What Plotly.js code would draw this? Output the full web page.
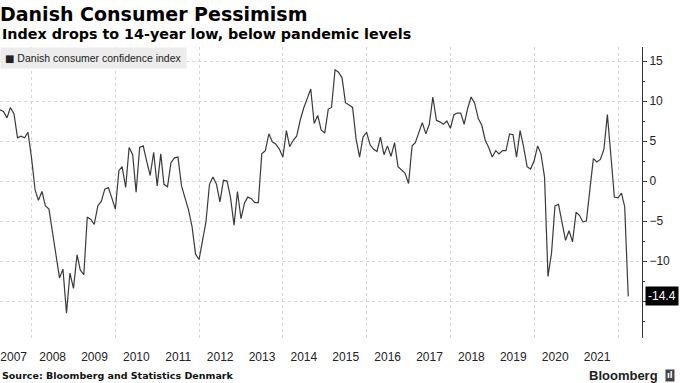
<!DOCTYPE html>
<html>
<head>
<meta charset="utf-8">
<script src="https://cdn.plot.ly/plotly-3.0.1.min.js"></script>
<style>
  html, body { margin: 0; padding: 0; background: #fff; }
  #chart { width: 680px; height: 383px; }
</style>
</head>
<body>
<div id="chart"></div>
<script>
// ---- data (monthly, March 2007 .. March 2022, plotted at month end) ----
const startYear = 2007;
const startMonth = 3; // March
const seriesName = 'Danish consumer confidence index';
const confidence = [
  8.9, 8.7, 7.9, 9.2, 8.4, 5.4, 5.6, 5.4, 6.1, 2.9,
  -1.1, -2.4, -1.3, -3.1, -3.5, -6.3, -9.7, -12.1, -11.0, -16.5,
  -11.5, -13.4, -9.2, -11.1, -11.7, -4.5, -4.8, -5.4, -3.1, -2.5,
  -1.0, -0.8, -2.1, -3.5, 1.3, 1.8, -0.8, 4.2, 3.3, -1.4,
  4.2, 4.4, 2.5, 0.7, 3.6, -0.6, 3.4, -0.4, -0.7, 2.3,
  2.9, 3.0, -0.6, -2.2, -3.6, -5.7, -9.1, -9.8, -7.4, -5.1,
  -0.4, 0.5, -0.4, -2.6, 0.1, 0.0, -2.0, -5.5, -1.3, -4.7,
  -2.7, -2.0, -2.2, -2.7, -2.7, 3.4, 3.8, 5.9, 4.9, 4.6,
  4.0, 3.0, 6.3, 4.3, 5.1, 5.6, 7.6, 9.1, 10.3, 11.5,
  7.2, 8.2, 6.4, 6.0, 9.0, 9.2, 13.9, 13.6, 12.9, 9.8,
  9.5, 9.2, 5.3, 3.0, 5.5, 6.1, 4.5, 4.0, 3.7, 5.5,
  3.3, 4.4, 3.1, 4.8, 1.8, 1.4, 1.0, -0.3, 4.4, 4.8,
  6.0, 7.3, 5.9, 7.1, 10.5, 7.6, 7.4, 7.1, 7.5, 6.6,
  8.3, 8.5, 8.5, 7.1, 9.1, 10.5, 9.7, 7.8, 7.0, 5.1,
  4.2, 3.0, 3.8, 3.4, 3.8, 3.8, 5.9, 5.8, 3.0, 6.3,
  4.3, 1.8, 1.5, 2.5, 4.4, 3.4, 0.5, -11.9, -9.0, -3.1,
  -2.9, -5.3, -7.4, -6.2, -7.6, -3.9, -4.3, -5.1, -5.0, -1.1,
  2.8, 2.4, 2.7, 4.0, 8.3, 3.1, -2.0, -2.1, -1.5, -3.2,
  -14.4
];
const yearLabels = ['2007','2008','2009','2010','2011','2012','2013','2014',
                    '2015','2016','2017','2018','2019','2020','2021'];
const yTicks = [-15, -10, -5, 0, 5, 10, 15];
const gridYears = ['2008','2010','2012','2014','2016','2018','2020','2022'];

// month-end dates for each observation
function monthEnd(i) {
  const d = new Date(Date.UTC(startYear, startMonth - 1 + i + 1, 0));
  return d.toISOString().slice(0, 10);
}
const dates = confidence.map((_, i) => monthEnd(i));

// tick labels sit mid-year (first one nudged so it stays inside the page)
const tickVals = yearLabels.map((y, i) => i === 0 ? y + '-07-28' : y + '-07-02');
const gridVals = gridYears.map(y => y + '-01-01');
const lastValue = confidence[confidence.length - 1];

const trace = {
  x: dates,
  y: confidence,
  type: 'scatter',
  mode: 'lines',
  name: seriesName,
  line: { color: '#3a3a3a', width: 1.2 },
  showlegend: false,
  hoverinfo: 'x+y'
};

const layout = {
  width: 680,
  height: 383,
  margin: { l: 0, r: 38, t: 47, b: 45 },
  paper_bgcolor: '#ffffff',
  plot_bgcolor: '#ffffff',
  font: { family: 'Liberation Sans, Arial, sans-serif', color: '#222' },
  title: {
    text: '<b>Danish Consumer Pessimism</b>',
    font: { family: 'DejaVu Sans, sans-serif', size: 19, color: '#000' },
    x: 0, xref: 'container', xanchor: 'left',
    y: 0.981, yref: 'container', yanchor: 'top',
    pad: { l: 0, t: 0 }
  },
  xaxis: {
    type: 'date',
    range: ['2007-03-31', '2022-07-29'],
    tickmode: 'array',
    tickvals: tickVals,
    ticktext: yearLabels,
    ticks: '',
    showgrid: false,
    showline: false,
    zeroline: false,
    ticklabelstandoff: 10,
    ticklabeloverflow: 'allow',
    tickfont: { family: 'Liberation Sans, Arial, sans-serif', size: 12, color: '#222' },
    minor: {
      tickmode: 'array',
      tickvals: gridVals,
      showgrid: true,
      gridcolor: '#d6d6d6',
      griddash: 'dot',
      gridwidth: 1,
      ticks: ''
    },
    fixedrange: true
  },
  yaxis: {
    side: 'right',
    range: [-19.6, 16.75],
    tickmode: 'array',
    tickvals: yTicks,
    ticks: 'outside',
    ticklen: 4,
    tickcolor: '#333',
    showline: true,
    linecolor: '#333',
    linewidth: 1,
    showgrid: true,
    gridcolor: '#d6d6d6',
    griddash: 'dot',
    gridwidth: 1,
    zeroline: false,
    tickfont: { family: 'Liberation Sans, Arial, sans-serif', size: 12, color: '#222' },
    minor: {
      dtick: 2.5,
      tick0: 0,
      ticks: 'outside',
      ticklen: 2,
      tickcolor: '#333',
      showgrid: false
    },
    fixedrange: true
  },
  annotations: [
    {
      text: '<b>Index drops to 14-year low, below pandemic levels</b>',
      xref: 'paper', yref: 'paper', x: 0, y: 1.043,
      xanchor: 'left', yanchor: 'middle', showarrow: false,
      font: { family: 'DejaVu Sans, sans-serif', size: 14.3, color: '#000' }
    },
    {
      text: '<span style="font-family:DejaVu Sans;font-size:10px">■</span> ' + seriesName,
      xref: 'paper', yref: 'paper', x: 0, y: 1,
      xanchor: 'left', yanchor: 'top', showarrow: false,
      bgcolor: '#ececec', borderpad: 4,
      font: { family: 'Liberation Sans, Arial, sans-serif', size: 10.5, color: '#222' }
    },
    {
      text: String(lastValue),
      xref: 'paper', yref: 'y', x: 1, y: lastValue,
      xanchor: 'left', yanchor: 'middle', xshift: 3, showarrow: false,
      bgcolor: '#000', borderpad: 2,
      font: { family: 'Liberation Sans, Arial, sans-serif', size: 12, color: '#fff' }
    },
    {
      text: '<b>Source: Bloomberg and Statistics Denmark</b>',
      xref: 'paper', yref: 'paper', x: 0, y: -0.13,
      xanchor: 'left', yanchor: 'middle', showarrow: false,
      font: { family: 'DejaVu Sans, sans-serif', size: 9.5, color: '#111' }
    },
    {
      text: '<b>Bloomberg</b>',
      xref: 'paper', yref: 'paper', x: 1.028, y: -0.13,
      xanchor: 'right', yanchor: 'middle', showarrow: false,
      font: { family: 'Liberation Sans, Arial, sans-serif', size: 13, color: '#222' }
    },
    {
      text: '<b>ıl</b>',
      xref: 'paper', yref: 'paper', x: 1.036, y: -0.13,
      xanchor: 'left', yanchor: 'middle', showarrow: false,
      bgcolor: '#444', borderpad: 1,
      font: { family: 'DejaVu Sans, sans-serif', size: 8, color: '#fff' }
    }
  ]
};

Plotly.newPlot('chart', [trace], layout, { displayModeBar: false, staticPlot: true });
</script>
</body>
</html>
